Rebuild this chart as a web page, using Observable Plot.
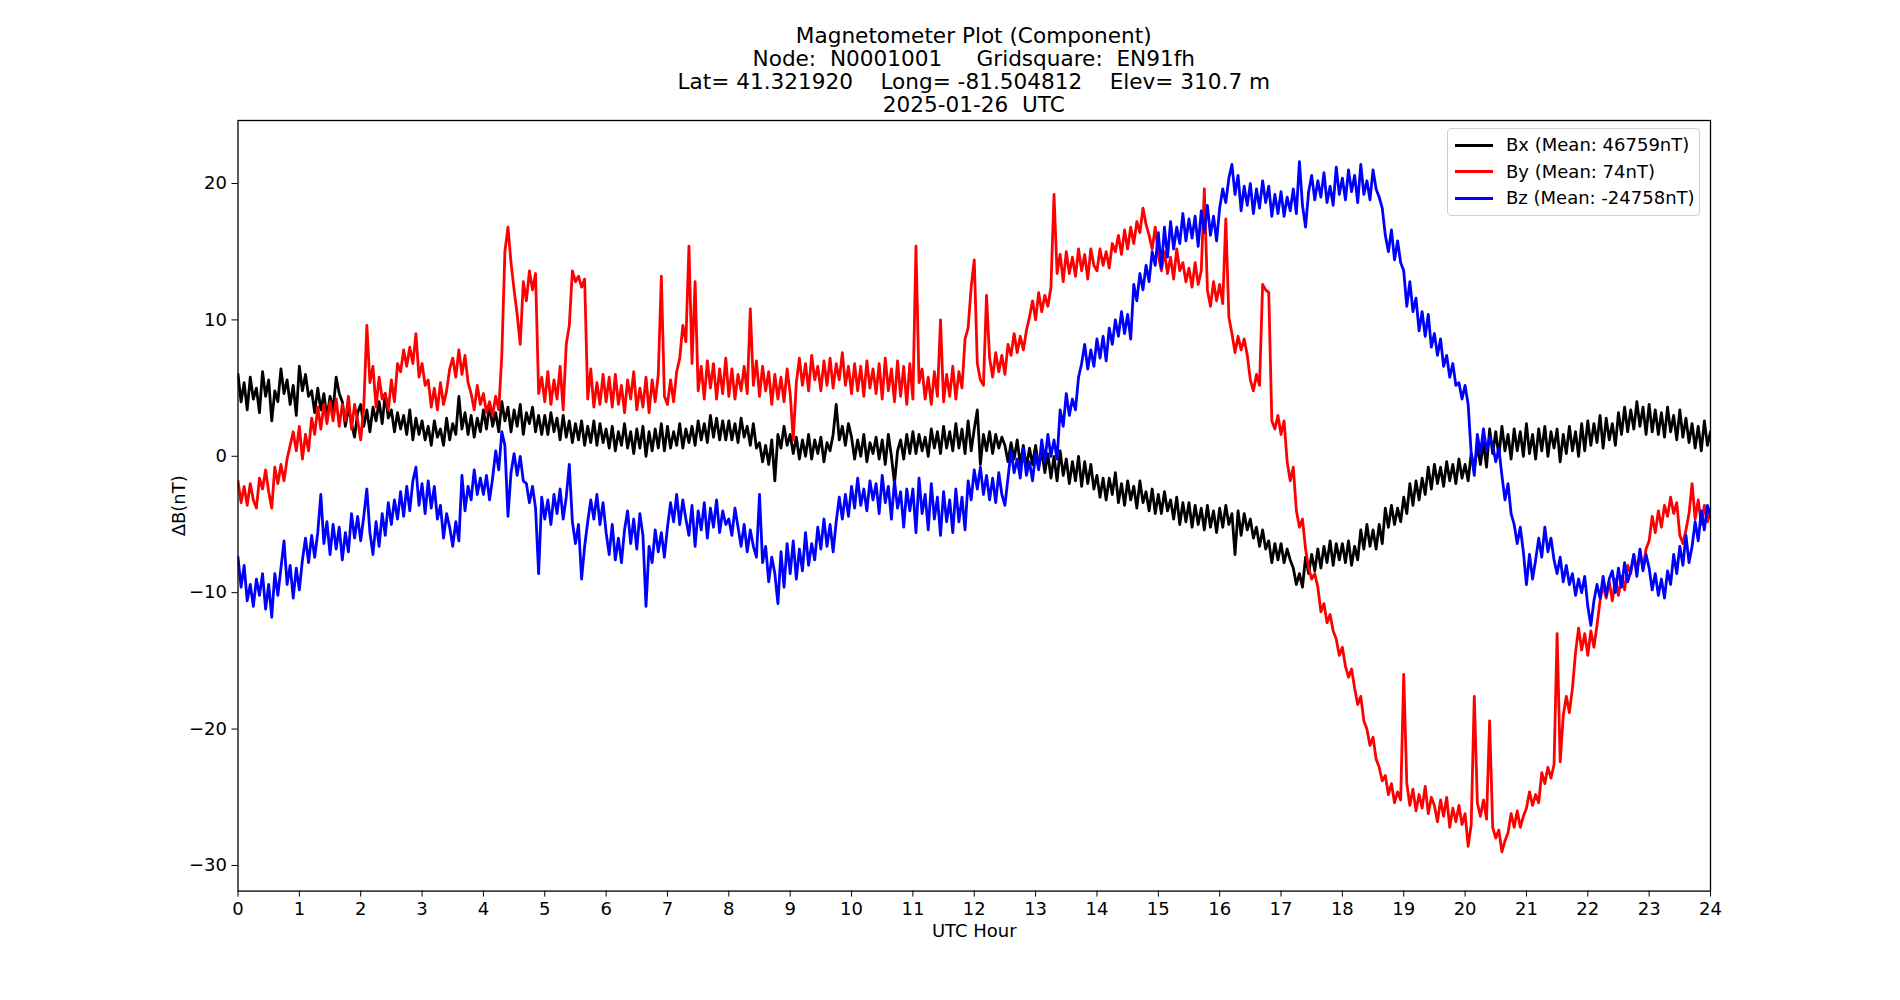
<!DOCTYPE html>
<html>
<head>
<meta charset="utf-8">
<script src="https://cdn.jsdelivr.net/npm/d3@7"></script>
<script src="https://cdn.jsdelivr.net/npm/@observablehq/plot@0.6"></script>
<style>
  body { margin: 0; background: #fff; font-family: "DejaVu Sans", sans-serif; color: #000; }
  #wrap { position: relative; width: 1900px; height: 1000px; overflow: hidden; background: #fff; }
  #title { position: absolute; left: 237.5px; top: 0; width: 1472.5px; padding-top: 24px; z-index: 2;
           text-align: center; font-size: 21.6px; line-height: 23px; white-space: pre; }
  #chart { position: absolute; left: 0; top: 110px; z-index: 1; }
  #legend { position: absolute; left: 1447px; top: 128px; width: 251px; height: 86px; z-index: 3;
            border: 1px solid #d0d0d0; border-radius: 4px; background: rgba(255,255,255,0.8);
            font-size: 18px; box-sizing: content-box; }
  .row { position: absolute; left: 0; height: 27px; line-height: 27px; white-space: pre; }
  .swatch { position: absolute; left: 7px; top: 12.5px; width: 38px; height: 3px; }
  .lab { position: absolute; left: 58px; top: 0; }
</style>
</head>
<body>
<div id="wrap">
  <div id="title"></div>
  <div id="chart"></div>
  <div id="legend"></div>
</div>
<script>
// Title lines
const titleLines = [
  "Magnetometer Plot (Component)",
  "Node:  N0001001     Gridsquare:  EN91fh",
  "Lat= 41.321920    Long= -81.504812    Elev= 310.7 m",
  "2025-01-26  UTC"
];

// Series labels, daily means and colours
const seriesNames = ["Bx", "By", "Bz"];
const seriesMeans = [46759, 74, -24758];
const seriesColors = ["black", "red", "blue"];

// Samples every 0.05 h (3 min) from 00:00 to 24:00 UTC, nT deviation from the daily mean.
// One hour per pair of lines.
const bx = [
  6.0, 4.0, 5.4, 3.4, 5.8, 4.2, 5.0, 3.2, 6.2, 4.4,
  5.6, 2.6, 4.8, 4.0, 6.4, 4.6, 5.6, 3.8, 5.2, 3.0,
  6.6, 4.8, 6.0, 4.4, 4.8, 3.2, 5.0, 3.4, 4.6, 2.8,
  4.4, 3.4, 5.8, 4.6, 4.0, 2.2, 3.6, 2.4, 1.4, 3.2,
  3.8, 2.2, 3.4, 1.8, 3.6, 2.6, 4.0, 2.4, 4.6, 2.8,
  3.4, 1.8, 3.2, 2.0, 3.0, 1.6, 3.4, 1.2, 2.8, 1.6,
  2.6, 1.2, 2.2, 0.8, 2.6, 1.4, 2.0, 0.8, 2.8, 1.2,
  2.4, 1.6, 4.4, 2.0, 3.2, 1.6, 3.0, 1.4, 2.8, 1.8,
  3.4, 2.0, 3.8, 2.2, 3.2, 1.8, 4.0, 2.6, 3.6, 1.8,
  3.4, 2.2, 3.8, 1.6, 3.2, 2.4, 3.6, 1.8, 3.0, 1.6,
  3.0, 1.6, 3.2, 1.8, 2.8, 1.2, 3.0, 1.4, 2.6, 1.0,
  2.4, 1.2, 2.6, 0.8, 2.2, 1.0, 2.6, 0.8, 2.4, 1.0,
  2.0, 0.6, 2.2, 0.4, 1.8, 0.8, 2.4, 0.6, 1.8, 0.2,
  2.0, 0.6, 2.2, 0.0, 1.8, 0.4, 2.0, 0.6, 2.4, 0.4,
  2.2, 0.6, 1.8, 0.8, 2.4, 0.6, 2.0, 1.0, 2.2, 0.8,
  2.6, 1.2, 2.4, 1.0, 3.0, 1.4, 2.8, 1.2, 2.6, 1.2,
  2.6, 1.2, 2.4, 1.0, 2.8, 1.4, 2.2, 0.8, 2.4, 0.6,
  1.0, -0.4, 0.8, -0.6, 1.2, -1.8, 1.6, 0.6, 2.2, 0.8,
  1.6, 0.2, 1.4, -0.2, 1.2, 0.0, 1.6, -0.2, 1.2, 0.2,
  1.4, -0.4, 1.0, 0.4, 1.6, 3.8, 1.2, 2.2, 0.8, 2.4,
  1.4, -0.2, 1.2, 0.0, 1.6, -0.4, 1.0, 0.2, 1.4, -0.2,
  1.2, -0.6, 1.6, 0.0, -2.0, 0.4, 1.2, -0.2, 1.6, 0.2,
  1.8, 0.2, 1.6, 0.4, 1.4, 0.0, 2.0, 0.6, 1.8, 0.2,
  2.2, 0.6, 1.8, 0.4, 2.4, 0.6, 2.0, 0.2, 2.6, 0.4,
  2.0, 3.4, -0.6, 1.6, 0.4, 1.8, 0.2, 1.6, 0.6, 1.4,
  0.8, -0.4, 1.0, -0.2, 1.2, -0.6, 0.8, -0.8, 0.6, -0.6,
  0.8, -0.8, 0.4, -1.2, 0.2, -1.6, 0.0, -1.8, 0.4, -1.4,
  -0.2, -2.0, -0.4, -1.8, 0.0, -2.2, -0.4, -2.0, -0.6, -2.4,
  -1.4, -3.0, -1.6, -3.2, -1.6, -2.8, -1.2, -3.4, -2.0, -3.6,
  -1.8, -3.2, -2.2, -3.8, -1.8, -3.4, -2.6, -4.0, -2.4, -4.2,
  -2.8, -4.2, -2.6, -4.0, -3.2, -4.6, -3.0, -5.0, -3.4, -4.8,
  -3.4, -5.2, -3.6, -5.0, -3.8, -5.4, -3.6, -5.2, -4.0, -5.6,
  -3.8, -5.2, -3.6, -5.0, -4.2, -7.2, -4.0, -5.8, -4.2, -5.4,
  -4.6, -6.0, -5.2, -6.6, -5.4, -6.8, -6.2, -7.8, -6.4, -7.6,
  -6.4, -7.8, -6.8, -7.6, -8.2, -9.4, -8.6, -9.6, -7.4, -8.6,
  -7.2, -8.4, -6.8, -8.2, -6.6, -7.8, -6.2, -8.0, -6.4, -7.6,
  -6.4, -7.8, -6.2, -8.0, -6.6, -7.6, -5.4, -6.8, -5.0, -6.6,
  -5.4, -6.8, -5.0, -6.4, -3.8, -5.2, -3.6, -5.0, -3.8, -4.8,
  -3.0, -4.2, -2.0, -3.6, -1.8, -3.2, -1.6, -2.8, -0.8, -2.4,
  -0.6, -2.0, -0.8, -2.2, -0.4, -1.8, -0.6, -2.0, -0.2, -1.6,
  -0.6, -1.8, 0.2, -1.0, 0.8, -0.6, 1.0, -0.8, 2.0, 0.2,
  1.8, 0.0, 2.2, 0.4, 1.6, -0.2, 2.0, 0.4, 1.8, 0.0,
  2.4, 0.2, 1.6, -0.2, 2.0, 0.4, 2.2, 0.0, 1.8, 0.6,
  2.0, -0.4, 1.6, 0.2, 2.2, 0.4, 1.8, 0.0, 2.4, 0.4,
  2.6, 0.8, 2.4, 1.0, 3.0, 0.6, 2.8, 1.2, 2.4, 0.8,
  3.2, 1.6, 3.6, 1.8, 3.4, 2.0, 4.0, 2.2, 3.6, 1.6,
  3.8, 1.8, 3.4, 1.6, 3.2, 1.4, 3.6, 1.8, 3.0, 1.2,
  3.4, 1.4, 2.8, 1.0, 2.4, 0.6, 2.2, 0.4, 2.6, 0.8,
  1.8
];

const by = [
  -1.8, -3.4, -2.2, -3.6, -2.0, -3.2, -3.8, -1.6, -2.4, -1.0,
  -2.6, -3.8, -0.8, -2.0, -0.6, -1.8, -0.2, 0.8, 1.8, 0.4,
  2.2, -0.2, 1.6, 0.4, 2.8, 1.6, 3.6, 2.0, 3.8, 2.4,
  4.0, 2.6, 4.2, 2.2, 3.8, 2.6, 4.4, 2.0, 3.8, 2.6,
  1.2, 3.6, 9.6, 5.4, 6.6, 3.6, 5.8, 4.2, 4.6, 3.4,
  5.6, 4.0, 6.8, 6.2, 7.8, 6.6, 8.0, 6.8, 9.0, 5.8,
  6.8, 5.2, 5.6, 3.6, 5.0, 3.4, 5.4, 3.8, 4.8, 6.4,
  7.2, 5.8, 7.8, 6.0, 7.4, 5.4, 4.6, 3.4, 5.2, 3.8,
  4.6, 3.2, 4.0, 3.0, 4.4, 3.4, 7.4, 15.0, 16.8, 14.2,
  12.2, 10.4, 8.2, 12.8, 11.4, 13.6, 12.2, 13.4, 4.6, 5.8,
  4.0, 6.2, 3.8, 5.6, 4.2, 6.6, 3.4, 8.2, 9.6, 13.6,
  12.8, 13.2, 12.4, 13.0, 4.2, 6.4, 3.6, 5.4, 3.8, 6.0,
  4.0, 5.8, 3.6, 6.0, 3.8, 5.2, 3.2, 5.6, 4.2, 6.2,
  3.4, 5.0, 3.6, 5.8, 3.2, 5.6, 4.0, 6.0, 13.2, 4.4,
  3.8, 5.6, 4.0, 6.2, 7.2, 9.6, 8.4, 15.4, 6.8, 12.8,
  4.8, 6.6, 4.2, 7.0, 5.0, 6.8, 4.2, 6.4, 4.6, 7.2,
  4.4, 6.4, 4.2, 6.0, 4.8, 6.6, 4.6, 10.8, 5.2, 7.0,
  4.4, 6.6, 4.8, 6.2, 3.8, 6.0, 4.2, 5.8, 4.0, 6.4,
  4.6, 1.2, 5.4, 7.2, 5.2, 6.8, 4.8, 7.4, 5.6, 6.6,
  4.8, 7.0, 5.2, 7.2, 5.0, 6.8, 5.6, 7.6, 5.2, 6.6,
  4.6, 6.8, 4.8, 6.6, 4.4, 7.0, 5.0, 6.4, 4.6, 6.8,
  4.2, 7.2, 4.8, 6.4, 4.0, 7.0, 4.4, 6.6, 3.8, 6.8,
  4.2, 15.4, 5.4, 6.4, 4.2, 5.8, 3.8, 6.2, 4.4, 10.0,
  4.0, 6.0, 4.4, 6.6, 4.2, 6.2, 5.0, 8.6, 9.4, 12.4,
  14.4, 6.8, 5.6, 5.2, 11.8, 7.2, 5.8, 7.6, 6.2, 7.4,
  6.0, 8.2, 7.4, 9.0, 7.6, 8.8, 7.8, 9.2, 10.2, 11.4,
  10.0, 12.0, 10.6, 11.8, 11.0, 12.4, 19.2, 13.4, 14.8, 12.8,
  15.0, 13.4, 14.6, 13.2, 15.2, 13.6, 14.8, 13.0, 15.2, 14.0,
  13.6, 15.2, 14.0, 15.0, 13.8, 15.6, 15.0, 16.2, 14.8, 16.6,
  15.2, 16.8, 15.6, 17.2, 16.4, 18.2, 17.0, 16.2, 15.2, 16.8,
  14.8, 13.6, 15.0, 13.4, 14.6, 13.0, 15.2, 13.6, 14.2, 12.8,
  13.8, 12.4, 14.2, 12.6, 13.6, 19.6, 12.2, 11.0, 12.8, 11.4,
  12.6, 11.2, 17.4, 10.2, 9.0, 7.6, 8.8, 7.8, 8.6, 7.4,
  5.6, 4.8, 6.0, 5.2, 12.6, 12.2, 12.0, 2.6, 2.0, 3.0,
  1.6, 2.6, -0.4, -1.8, -0.8, -4.0, -5.2, -4.6, -6.8, -8.2,
  -9.0, -8.6, -9.6, -11.4, -10.8, -12.2, -11.6, -12.8, -13.4, -14.6,
  -14.0, -15.4, -16.2, -15.6, -17.0, -18.2, -17.6, -19.4, -20.0, -21.2,
  -20.6, -22.2, -22.8, -23.8, -23.4, -24.8, -24.0, -25.4, -24.6, -25.2,
  -16.0, -24.0, -25.6, -24.4, -26.0, -24.8, -25.8, -24.2, -26.2, -25.0,
  -25.6, -26.8, -25.2, -26.4, -25.0, -27.2, -25.8, -26.8, -25.6, -27.0,
  -26.2, -28.6, -27.0, -17.6, -25.4, -26.4, -25.2, -26.6, -19.4, -27.2,
  -28.0, -27.4, -29.0, -28.2, -27.6, -26.2, -27.2, -26.0, -27.2, -26.4,
  -25.8, -24.6, -25.6, -24.8, -25.4, -23.2, -24.0, -22.8, -23.6, -22.6,
  -13.0, -22.4, -19.0, -17.6, -18.8, -17.0, -14.4, -12.6, -14.2, -13.0,
  -14.6, -12.8, -14.0, -12.4, -10.6, -9.4, -10.4, -9.2, -10.6, -9.0,
  -10.2, -8.8, -9.8, -8.0, -8.6, -7.2, -8.4, -7.0, -8.2, -6.8,
  -6.2, -4.4, -5.6, -4.0, -5.2, -3.6, -4.4, -3.0, -4.2, -3.4,
  -5.8, -6.4, -5.4, -4.2, -2.0, -4.6, -3.2, -5.0, -3.6, -4.8,
  -4.0
];

const bz = [
  -7.4, -9.6, -8.0, -10.6, -9.4, -11.0, -9.0, -10.2, -8.6, -11.2,
  -9.4, -11.8, -8.6, -10.2, -8.2, -6.2, -9.4, -8.0, -10.4, -8.2,
  -9.8, -7.6, -6.0, -7.8, -5.8, -7.4, -5.6, -2.8, -6.4, -4.8,
  -7.2, -5.0, -6.8, -5.2, -7.6, -5.6, -7.0, -4.2, -6.0, -4.4,
  -6.2, -4.4, -2.4, -5.6, -7.2, -4.8, -6.6, -4.2, -5.8, -3.4,
  -5.0, -3.2, -4.6, -2.6, -4.4, -2.2, -4.0, -1.8, -0.8, -3.6,
  -2.0, -4.2, -1.8, -3.8, -2.2, -4.6, -3.6, -6.0, -4.2, -5.2,
  -6.6, -4.8, -6.2, -1.4, -4.0, -2.2, -3.2, -1.0, -2.8, -1.6,
  -2.8, -1.4, -3.2, -1.6, 0.4, -1.0, 1.8, 0.8, -4.4, -1.2,
  0.2, -1.4, 0.0, -1.8, -2.0, -3.4, -2.2, -3.8, -8.6, -3.0,
  -4.6, -3.2, -5.0, -2.8, -4.2, -2.4, -4.6, -3.0, -0.6, -4.8,
  -6.4, -5.0, -9.0, -6.6, -4.8, -3.2, -4.6, -2.8, -5.0, -3.4,
  -5.6, -7.2, -5.0, -7.6, -6.0, -7.8, -5.4, -4.0, -6.4, -4.6,
  -6.8, -4.2, -5.8, -11.0, -6.6, -7.8, -5.4, -7.0, -5.6, -7.4,
  -5.2, -3.4, -4.8, -2.8, -5.0, -3.2, -4.6, -5.8, -3.6, -6.6,
  -4.0, -5.4, -3.4, -6.0, -3.8, -5.2, -3.2, -5.6, -4.0, -5.0,
  -4.6, -5.8, -3.8, -5.2, -6.6, -5.0, -7.0, -5.4, -6.6, -7.4,
  -2.8, -7.8, -6.6, -9.2, -7.4, -8.6, -10.8, -7.0, -9.6, -6.4,
  -8.6, -6.2, -9.0, -6.8, -8.4, -5.6, -8.0, -6.4, -7.6, -5.2,
  -6.8, -4.6, -6.6, -5.0, -7.0, -4.8, -3.0, -4.6, -2.8, -4.4,
  -2.2, -3.8, -1.6, -3.6, -2.4, -4.0, -1.8, -3.2, -2.0, -4.2,
  -1.4, -3.4, -2.2, -4.6, -1.8, -3.8, -2.6, -5.2, -2.4, -4.0,
  -2.4, -5.6, -1.6, -4.2, -2.8, -5.4, -2.0, -4.6, -3.0, -5.8,
  -2.6, -4.8, -3.2, -5.6, -2.4, -4.8, -3.0, -5.4, -1.8, -3.2,
  -1.0, -2.4, -0.8, -2.8, -1.4, -3.2, -1.6, -3.4, -1.2, -2.8,
  -3.6, -1.6, 0.4, -1.2, -0.2, -1.6, 0.6, -1.4, -0.4, -1.8,
  0.2, -1.0, 1.2, -0.4, 1.6, 0.0, 1.2, -0.2, 3.4, 2.2,
  4.6, 3.0, 4.2, 3.4, 5.8, 6.8, 8.2, 6.4, 7.8, 6.6,
  8.6, 7.2, 8.8, 7.0, 9.4, 8.2, 10.0, 8.8, 10.6, 9.0,
  10.4, 8.6, 12.6, 11.4, 13.4, 12.2, 14.0, 12.8, 15.0, 14.0,
  16.4, 13.8, 16.8, 14.6, 17.2, 15.2, 16.8, 15.6, 17.8, 15.8,
  17.4, 16.0, 17.6, 15.4, 18.0, 16.4, 18.4, 16.2, 17.6, 15.8,
  18.2, 19.6, 18.6, 20.4, 21.4, 19.2, 20.6, 18.0, 19.8, 18.4,
  20.0, 17.8, 19.6, 18.2, 20.2, 18.6, 19.8, 17.6, 19.2, 17.8,
  19.4, 17.6, 19.0, 18.0, 19.6, 17.8, 21.6, 18.4, 16.8, 19.4,
  20.6, 18.8, 20.2, 19.0, 20.8, 18.6, 19.8, 18.4, 21.2, 19.2,
  20.4, 18.8, 21.0, 19.4, 20.6, 18.6, 21.4, 19.2, 20.2, 18.8,
  21.0, 19.6, 19.0, 18.2, 16.2, 15.0, 16.6, 14.4, 15.8, 14.2,
  13.6, 11.0, 12.8, 10.6, 11.6, 9.2, 10.6, 8.8, 10.4, 8.0,
  9.0, 7.4, 8.6, 6.6, 7.4, 5.8, 6.8, 5.2, 5.4, 4.2,
  5.2, 3.8, 0.2, -1.4, 1.6, 0.2, 2.0, 0.4, 1.4, 0.8,
  -0.4, 0.6, -1.4, -3.2, -2.0, -4.2, -5.0, -6.4, -5.2, -7.0,
  -9.4, -7.2, -9.0, -7.6, -6.0, -7.4, -5.2, -7.0, -6.0, -7.6,
  -8.6, -7.4, -9.2, -8.0, -9.4, -8.6, -10.2, -9.0, -10.0, -8.8,
  -11.0, -12.4, -10.6, -9.4, -10.4, -8.8, -10.2, -9.0, -8.4, -10.0,
  -8.2, -9.6, -7.8, -9.2, -8.4, -7.2, -8.8, -6.8, -8.4, -7.2,
  -8.2, -9.8, -8.6, -10.2, -9.0, -10.4, -8.4, -9.4, -7.2, -8.6,
  -6.6, -8.0, -5.8, -7.8, -6.6, -4.8, -6.2, -4.0, -5.4, -3.6,
  -4.4
];

// Axis ticks
const xTicks = d3.range(0, 25);
const yTicks = [-30, -20, -10, 0, 10, 20];

const samplesPerHour = 20;
const hourOf = (d, i) => i / samplesPerHour;
const minus = d => (d < 0 ? "\u2212" + (-d) : String(d));

document.getElementById("title").textContent = titleLines.join("\n");

const seriesData = [bx, by, bz];

const chart = Plot.plot({
  width: 1900,
  height: 890,
  marginLeft: 237.5,
  marginRight: 190,
  marginTop: 10,
  marginBottom: 109.4,
  style: { fontFamily: '"DejaVu Sans", sans-serif', fontSize: "18px", color: "black", background: "transparent", overflow: "visible" },
  x: { domain: [0, 24] },
  y: { domain: [-31.88, 24.62] },
  marks: [
    ...seriesData.map((values, k) =>
      Plot.lineY(values, { x: hourOf, y: d => d, stroke: seriesColors[k], strokeWidth: 2.8, clip: true })
    ),
    Plot.frame({ stroke: "black", strokeWidth: 1.3 }),
    Plot.axisX({ ticks: xTicks, tickFormat: minus, tickSize: 6, tickPadding: 5, fontSize: 18,
                 label: "UTC Hour", labelAnchor: "center", labelArrow: "none", labelOffset: 46 }),
    Plot.axisY({ ticks: yTicks, tickFormat: minus, tickSize: 6, tickPadding: 5, fontSize: 18,
                 label: "\u0394B(nT)", labelAnchor: "center", labelArrow: "none", labelOffset: 66 })
  ]
});
document.getElementById("chart").appendChild(chart);

// Legend rows
const legend = document.getElementById("legend");
seriesNames.forEach((name, k) => {
  const row = document.createElement("div");
  row.className = "row";
  row.style.top = (2 + k * 26.5) + "px";
  row.style.width = "100%";
  const sw = document.createElement("div");
  sw.className = "swatch";
  sw.style.background = seriesColors[k];
  const lab = document.createElement("div");
  lab.className = "lab";
  lab.textContent = `${name} (Mean: ${seriesMeans[k]}nT)`;
  row.appendChild(sw);
  row.appendChild(lab);
  legend.appendChild(row);
});
</script>
</body>
</html>
